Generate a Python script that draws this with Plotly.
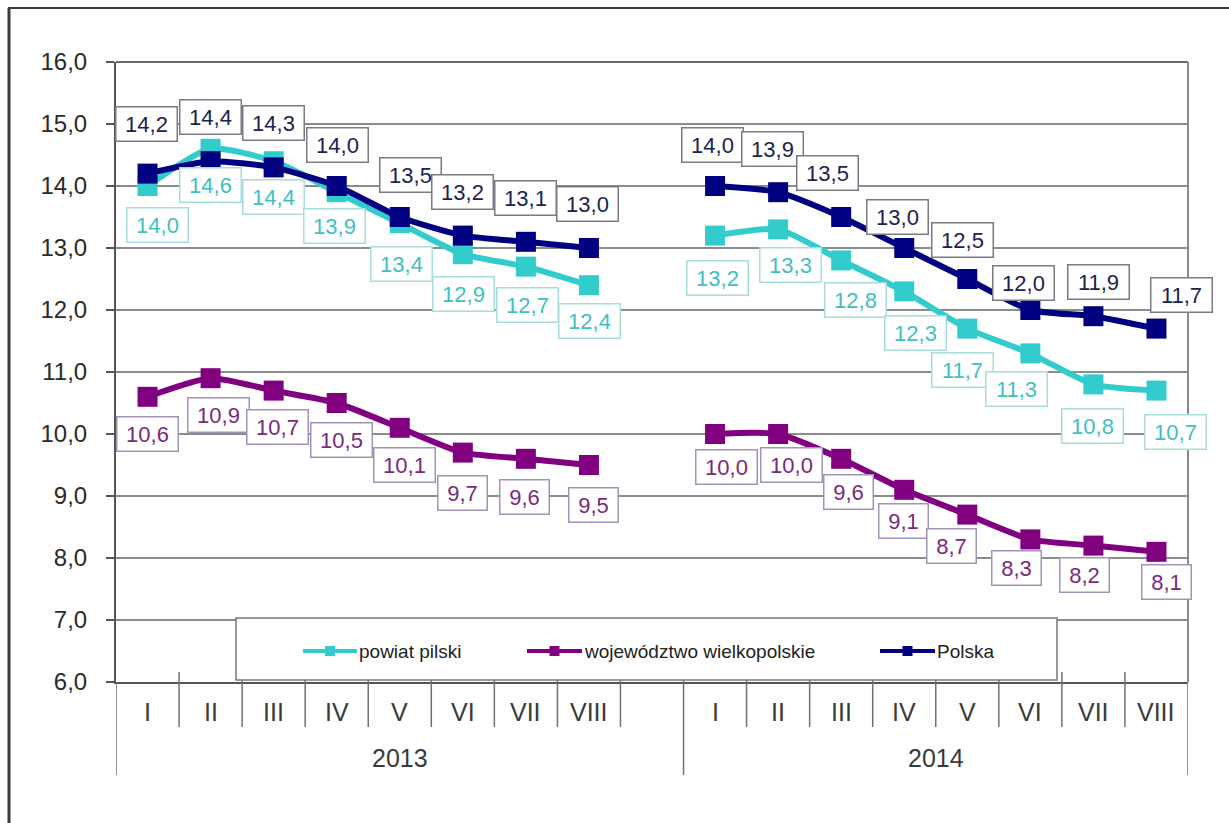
import plotly.graph_objects as go

# ---- data ----
months = ["I", "II", "III", "IV", "V", "VI", "VII", "VIII"]
years = ["2013", "2014"]
powiat_2013 = [14.0, 14.6, 14.4, 13.9, 13.4, 12.9, 12.7, 12.4]
powiat_2014 = [13.2, 13.3, 12.8, 12.3, 11.7, 11.3, 10.8, 10.7]
woj_2013 = [10.6, 10.9, 10.7, 10.5, 10.1, 9.7, 9.6, 9.5]
woj_2014 = [10.0, 10.0, 9.6, 9.1, 8.7, 8.3, 8.2, 8.1]
polska_2013 = [14.2, 14.4, 14.3, 14.0, 13.5, 13.2, 13.1, 13.0]
polska_2014 = [14.0, 13.9, 13.5, 13.0, 12.5, 12.0, 11.9, 11.7]
series_names = ["powiat pilski", "województwo wielkopolskie", "Polska"]
y_ticks = [6, 7, 8, 9, 10, 11, 12, 13, 14, 15, 16]

# ---- label offsets (pixels: dx right, dy down) ----
off_powiat = [(10, 39), (0, 36), (0, 36), (-2, 34), (2, 41), (1, 40), (2, 38), (1, 36),
              (2, 42), (12, 36), (14, 40), (11, 42), (-5, 41), (-14, 36), (-1, 42), (19, 41)]
off_woj = [(0, 37), (8, 37), (4, 36), (5, 37), (5, 37), (0, 40), (-1, 38), (5, 40),
           (11, 33), (13, 31), (7, 33), (-1, 31), (-16, 31), (-14, 29), (-9, 29), (10, 30)]
off_polska = [(-1, -50), (0, -44), (0, -44), (1, -41), (11, -42), (0, -44), (0, -44), (-1, -44),
              (-3, -41), (-6, -43), (-14, -44), (-7, -31), (-5, -39), (-7, -27), (5, -34), (25, -34)]

# ---- layout geometry ----
W, H = 1229, 823
L, R, T, B = 116, 1188, 62, 682

cats = months + [""] + months
xs = list(range(len(cats)))


def full(a, b):
    return a + [None] + b


colors = ["#33CCCC", "#800080", "#000080"]
text_colors = ["#3fc0c2", "#7a2a7a", "#1c2350"]
border_colors = ["#a8dcdd", "#a493b8", "#7a7a85"]
data = [full(powiat_2013, powiat_2014), full(woj_2013, woj_2014), full(polska_2013, polska_2014)]
offsets = [off_powiat, off_woj, off_polska]
narrow = "Liberation Sans Narrow, Arial Narrow, Liberation Sans, Arial, sans-serif"

fig = go.Figure()
for name, ys, c in zip(series_names, data, colors):
    fig.add_trace(go.Scatter(
        x=xs, y=ys, name=name, mode="lines+markers",
        line=dict(color=c, width=6, shape="spline", smoothing=0.6),
        marker=dict(symbol="square", size=20, color=c),
        connectgaps=False, showlegend=False, hoverinfo="skip"))

ann = []
shapes = []


def fmt(v):
    return f"{v:.1f}".replace(".", ",")


for ys, offs, tc, bc in zip(data, offsets, text_colors, border_colors):
    k = 0
    for x, v in zip(xs, ys):
        if v is None:
            continue
        dx, dy = offs[k]
        k += 1
        t = fmt(v)
        ann.append(dict(
            x=x, y=v, xref="x", yref="y", text=t, showarrow=False,
            xshift=dx, yshift=-dy,
            font=dict(family="Liberation Sans, Arial, sans-serif", size=22, color=tc),
            bgcolor="white", bordercolor=bc, borderwidth=1.5, borderpad=3,
            width=(54 if len(t) > 3 else 42), height=27))


def ypx(py):
    return (B - py) / (B - T)


def xpx(px):
    return (px - L) / (R - L)


# month labels
for x, c in zip(xs, cats):
    if c:
        ann.append(dict(x=x, y=ypx(712), xref="x", yref="paper", text=c, showarrow=False,
                        yanchor="middle",
                        font=dict(family=narrow, size=25, color="#3a3a3a")))
# year labels
n = len(months)
ann.append(dict(x=(0 + n) / 2, y=ypx(758), xref="x", yref="paper", text=years[0], showarrow=False,
                yanchor="middle", font=dict(family=narrow, size=25, color="#3a3a3a")))
ann.append(dict(x=(n + 1 + 2 * n) / 2, y=ypx(758), xref="x", yref="paper", text=years[1], showarrow=False,
                yanchor="middle", font=dict(family=narrow, size=25, color="#3a3a3a")))

# separators below axis
for k in range(1, len(cats)):
    long_ = (k == n + 1)
    shapes.append(dict(type="line", xref="x", yref="paper", x0=k - 0.5, x1=k - 0.5,
                       y0=ypx(672), y1=ypx(775 if long_ else 727),
                       line=dict(color="#707070", width=1.5)))
for xe in [-0.5, len(cats) - 0.5]:
    shapes.append(dict(type="line", xref="x", yref="paper", x0=xe, x1=xe,
                       y0=0, y1=ypx(775), line=dict(color="#707070", width=1.5)))

# plot frame top and right
shapes.append(dict(type="line", xref="paper", yref="paper", x0=0, x1=1, y0=1, y1=1,
                   line=dict(color="#6a6a6a", width=2)))
shapes.append(dict(type="line", xref="paper", yref="paper", x0=1, x1=1, y0=0, y1=1,
                   line=dict(color="#8a8a8a", width=2)))

# outer frame
shapes.append(dict(type="line", xref="paper", yref="paper", x0=xpx(9), x1=xpx(9),
                   y0=ypx(8), y1=ypx(830), line=dict(color="#3a3a3a", width=3)))
shapes.append(dict(type="line", xref="paper", yref="paper", x0=xpx(8), x1=xpx(1235),
                   y0=ypx(8), y1=ypx(8), line=dict(color="#3a3a3a", width=2)))

# legend box
shapes.append(dict(type="rect", xref="paper", yref="paper", x0=xpx(236), x1=xpx(1057),
                   y0=ypx(680), y1=ypx(618), fillcolor="white", line=dict(color="#777777", width=1.5),
                   layer="above"))
leg_x = [(303, 357), (527, 582), (880, 935)]
for (a, b), name, c in zip(leg_x, series_names, colors):
    shapes.append(dict(type="line", xref="paper", yref="paper", x0=xpx(a), x1=xpx(b),
                       y0=ypx(651), y1=ypx(651), line=dict(color=c, width=4), layer="above"))
    m = (a + b) / 2
    shapes.append(dict(type="rect", xref="paper", yref="paper", x0=xpx(m - 5), x1=xpx(m + 5),
                       y0=ypx(656), y1=ypx(646), fillcolor=c, line=dict(width=0), layer="above"))
    ann.append(dict(x=xpx(b), y=ypx(651), xref="paper", yref="paper", text=name, showarrow=False,
                    xanchor="left", yanchor="middle",
                    font=dict(family=narrow, size=19, color="#222")))

fig.update_layout(
    width=W, height=H, margin=dict(l=L, r=W - R, t=T, b=H - B, pad=0),
    paper_bgcolor="white", plot_bgcolor="white",
    annotations=ann, shapes=shapes,
    xaxis=dict(range=[-0.5, len(cats) - 0.5], showgrid=False, zeroline=False, showticklabels=False,
               showline=True, linecolor="#555", linewidth=2, ticks=""),
    yaxis=dict(range=[6, 16], tickvals=y_ticks, ticktext=[fmt(v) for v in y_ticks],
               showgrid=True, gridcolor="#8c8c8c", gridwidth=1.5, zeroline=False,
               showline=True, linecolor="#555", linewidth=2, ticks="outside", ticklen=8,
               tickcolor="#555", tickwidth=1.5, ticklabelstandoff=14,
               tickfont=dict(family="Liberation Sans, Arial, sans-serif", size=24, color="#2a2a2a")),
)

fig.write_html("out.html", post_script="document.body.style.margin='0';",
               config={"displayModeBar": False})
